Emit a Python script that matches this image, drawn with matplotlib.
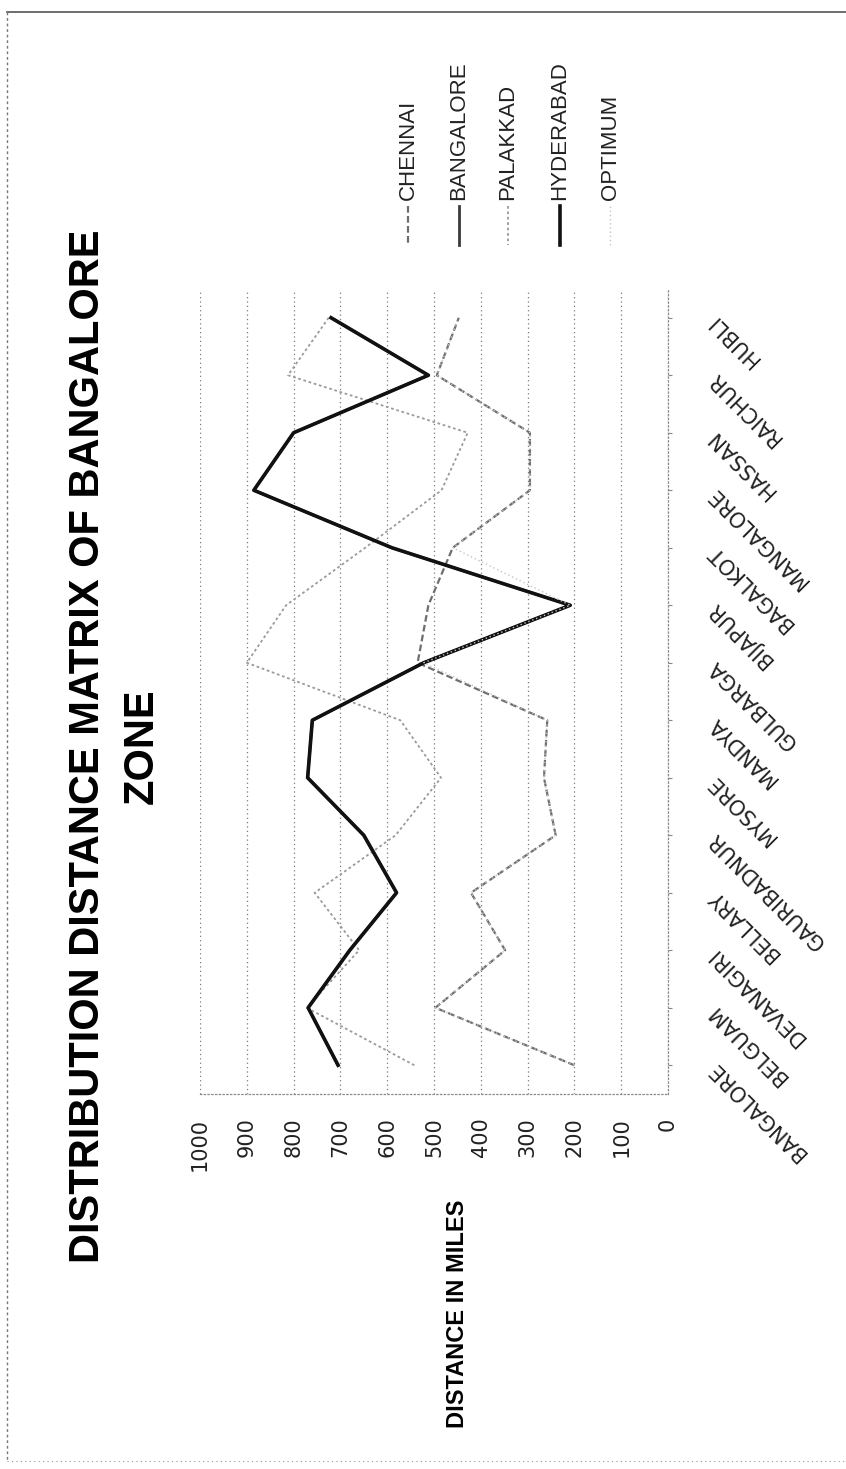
import matplotlib.pyplot as plt
from matplotlib.lines import Line2D

cities = ['BANGALORE', 'BELGUAM', 'DEVANAGIRI', 'BELLARY', 'GAURIBADNUR', 'MYSORE',
          'MANDYA', 'GULBARGA', 'BIJAPUR', 'BAGALKOT', 'MANGALORE', 'HASSAN',
          'RAICHUR', 'HUBLI']
chennai = [200, 497, 348, 421, 240, 265, 258, 535, 512, 460, 295, 295, 494, 447]
bangalore = [705, 769, 680, 580, 650, 770, 760, 522, 209, 590, 885, 800, 512, 720]
palakkad = [542, 772, 660, 755, 582, 485, 572, 900, 816, 647, 484, 428, 812, 725]
hyderabad = [705, 769, 680, 580, 650, 770, 760, 522, 209, 590, 885, 800, 512, 720]
optimum = [200, 497, 348, 421, 240, 265, 258, 522, 209, 460, 295, 295, 494, 447]
value_ticks = [0, 100, 200, 300, 400, 500, 600, 700, 800, 900, 1000]

W, H = 846, 1469
sans = ['Liberation Sans', 'DejaVu Sans']

fig = plt.figure(figsize=(W / 100, H / 100), dpi=100)
# the chart is printed turned a quarter turn: values run right to left, towns bottom to top
ax = fig.add_axes([200 / W, 1 - 1094 / H, 468 / W, 805 / H])
pos = list(range(len(cities)))

styles = [
    (chennai, dict(color='#6e6e6e', lw=1.6, ls=(0, (3, 1.5)))),
    (bangalore, dict(color='#3a3a3a', lw=2.0, ls='-')),
    (palakkad, dict(color='#9a9a9a', lw=1.3, ls=(0, (1.5, 1.5)))),
    (hyderabad, dict(color='#111111', lw=2.6, ls='-')),
    (optimum, dict(color='#c4c4c4', lw=1.0, ls=(0, (1, 2)))),
]
for vals, st in styles:
    ax.plot(vals, pos, **st)

ax.set_xlim(1000, 0)
ax.set_ylim(-0.5, len(cities) - 0.5)
ax.set_xticks(value_ticks)
ax.set_xticklabels([str(v) for v in value_ticks], rotation=90, fontsize=15, color='#222222')
ax.tick_params(axis='x', length=0, pad=17)
ax.grid(axis='x', color='#7a7a7a', linestyle=(0, (1, 2.5)), linewidth=0.9)

ax.yaxis.tick_right()
ax.set_yticks(pos)
ax.set_yticklabels(cities, rotation=135, ha='right', va='center',
                   rotation_mode='anchor', fontsize=15, color='#222222')
ax.tick_params(axis='y', length=3, pad=28, color='#888888')

for s in ['top', 'left']:
    ax.spines[s].set_visible(False)
for s in ['bottom', 'right']:
    ax.spines[s].set_color('#8a8a8a')
    ax.spines[s].set_linestyle((0, (1, 2)))
    ax.spines[s].set_linewidth(0.9)

# title and axis title
fig.text(88 / W, 1 - 746 / H, 'DISTRIBUTION DISTANCE MATRIX OF BANGALORE', rotation=90,
         ha='center', va='center', fontsize=30, fontweight='bold', family=sans)
fig.text(142 / W, 1 - 746 / H, 'ZONE', rotation=90,
         ha='center', va='center', fontsize=30, fontweight='bold', family=sans)
fig.text(457 / W, 1 - 1314 / H, 'DISTANCE IN MILES', rotation=90,
         ha='center', va='center', fontsize=17, fontweight='bold', family=sans)

# legend, also turned
names = ['CHENNAI', 'BANGALORE', 'PALAKKAD', 'HYDERABAD', 'OPTIMUM']
leg_x = [408, 459, 508, 560, 610]
for (vals, st), name, x in zip(styles, names, leg_x):
    fig.add_artist(Line2D([x / W, x / W], [1 - 206 / H, 1 - 245 / H],
                          transform=fig.transFigure, **st))
    fig.text(x / W, 1 - 200 / H, name, rotation=90, ha='center', va='bottom',
             fontsize=16, color='#222222', family=sans)

# chart area border
fig.add_artist(Line2D([7 / W, 1.0], [1 - 12 / H, 1 - 12 / H], transform=fig.transFigure,
                      color='#555555', lw=1.2))
fig.add_artist(Line2D([7 / W, 7 / W], [1 - 12 / H, 1 - 1461 / H], transform=fig.transFigure,
                      color='#777777', lw=1.0, ls=(0, (2, 2))))
fig.add_artist(Line2D([7 / W, 1.0], [1 - 1461 / H, 1 - 1461 / H], transform=fig.transFigure,
                      color='#999999', lw=0.8, ls=(0, (1, 3))))

fig.savefig('out.png', dpi=100)
